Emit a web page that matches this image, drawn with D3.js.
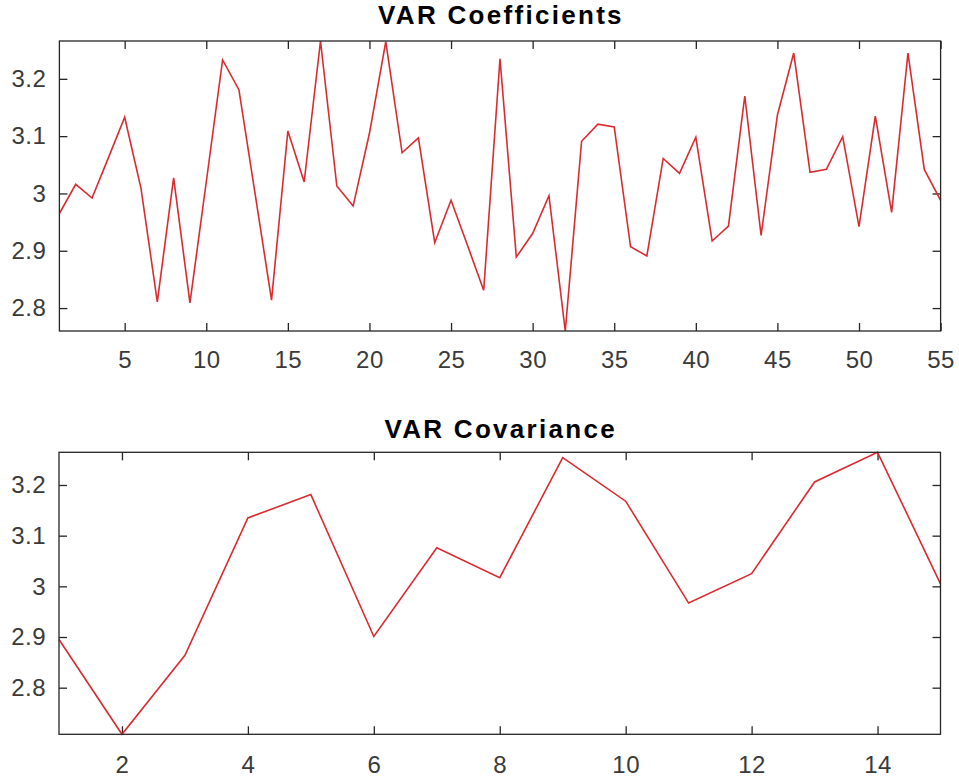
<!DOCTYPE html>
<html>
<head>
<meta charset="utf-8">
<script src="https://cdn.jsdelivr.net/npm/d3@7"></script>
<style>
  body { margin: 0; background: #fff; }
  text { font-family: "Liberation Sans", Arial, sans-serif; }
</style>
</head>
<body>
<svg id="chart" width="959" height="782"></svg>
<script>
// data
var coefIndex = d3.range(1, 56);
var coefValues = [2.965, 3.016, 2.992, 3.062, 3.133, 3.009, 2.811, 3.027, 2.809, 3.020,
                  3.233, 3.181, 2.998, 2.814, 3.109, 3.020, 3.266, 3.013, 2.978, 3.105,
                  3.265, 3.071, 3.097, 2.914, 2.988, 2.910, 2.831, 3.235, 2.889, 2.930,
                  2.996, 2.760, 3.091, 3.121, 3.116, 2.907, 2.891, 3.061, 3.035, 3.098,
                  2.917, 2.943, 3.170, 2.927, 3.137, 3.245, 3.037, 3.042, 3.099, 2.942,
                  3.135, 2.967, 3.245, 3.042, 2.988];
var covIndex = d3.range(1, 16);
var covValues = [2.895, 2.708, 2.864, 3.135, 3.181, 2.901, 3.076, 3.017, 3.254, 3.168,
                 2.967, 3.025, 3.206, 3.2645, 3.005];

var coefXTicks = [5, 10, 15, 20, 25, 30, 35, 40, 45, 50, 55];
var covXTicks = [2, 4, 6, 8, 10, 12, 14];
var yTicks = [2.8, 2.9, 3, 3.1, 3.2];

var svg = d3.select("#chart");
var lineColor = "#d92b30";
var axisColor = "#262626";

function drawPanel(opts) {
    var w = opts.right - opts.left;
    var h = opts.bottom - opts.top;

    var g = svg.append("g")
        .attr("transform", "translate(" + opts.left + "," + opts.top + ")");

    var x = d3.scaleLinear().domain(d3.extent(opts.xs)).range([0, w]);
    var y = d3.scaleLinear().domain(d3.extent(opts.ys)).range([h, 0]);

    var fmt = d3.format("~g");

    //bottom axis with labels
    g.append("g")
        .attr("class", "axis")
        .attr("transform", "translate(0," + h + ")")
        .call(d3.axisBottom(x).tickValues(opts.xTicks).tickSizeInner(-8).tickSizeOuter(0)
            .tickPadding(opts.xPad).tickFormat(fmt));
    //top ticks
    g.append("g")
        .attr("class", "axis")
        .call(d3.axisTop(x).tickValues(opts.xTicks).tickSizeInner(-8).tickSizeOuter(0)
            .tickFormat(""));
    //left axis with labels
    g.append("g")
        .attr("class", "axis")
        .call(d3.axisLeft(y).tickValues(yTicks).tickSizeInner(-8).tickSizeOuter(0)
            .tickPadding(13).tickFormat(fmt));
    //right ticks
    g.append("g")
        .attr("class", "axis")
        .attr("transform", "translate(" + w + ",0)")
        .call(d3.axisRight(y).tickValues(yTicks).tickSizeInner(-8).tickSizeOuter(0)
            .tickFormat(""));

    g.selectAll(".axis .domain").remove();
    g.selectAll(".axis line").attr("stroke", axisColor).attr("stroke-width", 1.3);
    g.selectAll(".axis text")
        .attr("fill", "#3a3a3a")
        .style("font-size", "24px")
        .style("letter-spacing", "0.5px");

    var line = d3.line()
        .x(function(d, i){ return x(opts.xs[i]); })
        .y(function(d){ return y(d); });

    g.append("path")
        .datum(opts.ys)
        .attr("d", line)
        .attr("fill", "none")
        .attr("stroke", lineColor)
        .attr("stroke-width", 1.6)
        .attr("stroke-linejoin", "miter");

    //box
    g.append("rect")
        .attr("width", w)
        .attr("height", h)
        .attr("fill", "none")
        .attr("stroke", axisColor)
        .attr("stroke-width", 1.3);

    //title
    svg.append("text")
        .attr("x", (opts.left + opts.right) / 2 + 1)
        .attr("y", opts.titleY)
        .attr("text-anchor", "middle")
        .style("font-size", "26px")
        .style("font-weight", "bold")
        .style("letter-spacing", "2.3px")
        .attr("fill", "#000")
        .text(opts.title);
}

drawPanel({left: 59.4, right: 940.6, top: 41, bottom: 331, xs: coefIndex, ys: coefValues,
           xTicks: coefXTicks, xPad: 20, title: "VAR Coefficients", titleY: 23.5});
drawPanel({left: 59, right: 940.5, top: 452.3, bottom: 734.3, xs: covIndex, ys: covValues,
           xTicks: covXTicks, xPad: 22, title: "VAR Covariance", titleY: 437.5});
</script>
</body>
</html>
